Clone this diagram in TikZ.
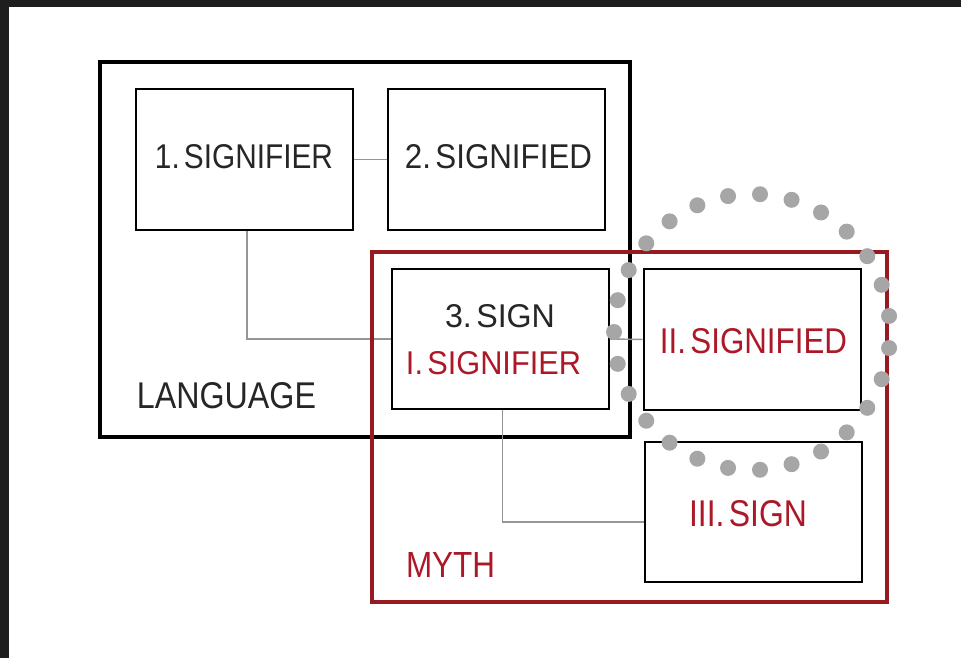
\documentclass[tikz,border=0pt]{standalone}
\usepackage{fontspec}
\setmainfont{Liberation Sans}
\usepackage{graphicx}
\newlength\pxu
\setlength\pxu{0.75pt}
\newcommand{\fitt}[3]{\resizebox{#1\pxu}{#2\pxu}{#3}}
\newcommand{\gp}{\hspace{0.14em}}
\definecolor{mythred}{RGB}{150,26,32}
\definecolor{txtred}{RGB}{172,24,40}
\definecolor{conn}{RGB}{150,150,150}
\definecolor{dotc}{RGB}{166,166,166}
\definecolor{darkbg}{RGB}{30,30,30}
\tikzset{
  inbox/.style={draw=black, line width=1.5pt, minimum width=162.75pt, minimum height=105.75pt, inner sep=0pt, fill=none},
  lang/.style={draw=black, line width=3pt, minimum width=397.5pt, minimum height=281.25pt, inner sep=0pt},
  myth/.style={draw=mythred, line width=3pt, minimum width=386.25pt, minimum height=262.5pt, inner sep=0pt},
  lbl/.style={inner sep=0pt, text=black!85},
  rlbl/.style={inner sep=0pt, text=txtred},
  link/.style={draw=conn, line width=1.1pt},
}
\begin{document}
\begin{tikzpicture}[x=0.75pt, y=-0.75pt]
\useasboundingbox (0,0) rectangle (961,658);
\fill[white] (0,0) rectangle (961,658);
\fill[darkbg] (0,0) rectangle (961,7);
\fill[darkbg] (0,0) rectangle (9,658);

% big frames
\node[lang] (language) at (365,249.5) {};
% inner boxes
\node[inbox] (b1) at (244,159.5) {};
\node[inbox] (b2) at (496.5,159.5) {};
\node[inbox, minimum height=105pt] (b3) at (500.5,339) {};
\node[inbox] (bII) at (752,339.5) {};
\node[inbox, minimum height=105pt] (bIII) at (753,512) {};

% connectors
\draw[link] (b1.east) -- (b2.west);
\draw[link] ([xshift=2.25pt]b1.south) |- (b3.west);
\draw[link] (b3.east) -- (bII.west);
\draw[link] ([xshift=1.5pt]b3.south) |- ([yshift=-7.5pt]bIII.west);

\node[myth] (myth) at (629.5,427) {};

% labels
\node[lbl] (t1) at (244,157) {\fitt{178}{24}{1.\gp SIGNIFIER}};
\node[lbl] (t2) at (498.5,157) {\fitt{187}{24}{2.\gp SIGNIFIED}};
\node[lbl] (t3) at (500,316.5) {\fitt{110}{23}{3.\gp SIGN}};
\node[rlbl] (tI) at (493.5,363.5) {\fitt{175}{23}{I.\gp SIGNIFIER}};
\node[rlbl] (tII) at (753.5,341) {\fitt{187}{25}{II.\gp SIGNIFIED}};
\node[rlbl] (tIII) at (748,514) {\fitt{118}{26}{III.\gp SIGN}};
\node[lbl] (tlang) at (226.5,396) {\fitt{179}{26}{LANGUAGE}};
\node[rlbl] (tmyth) at (450.5,564.5) {\fitt{89}{25}{MYTH}};

% dotted circle
\foreach \k in {0,...,26}
  \fill[dotc] (752,332) ++(180+\k*13.3333:138) circle[radius=6pt];
\end{tikzpicture}
\end{document}
